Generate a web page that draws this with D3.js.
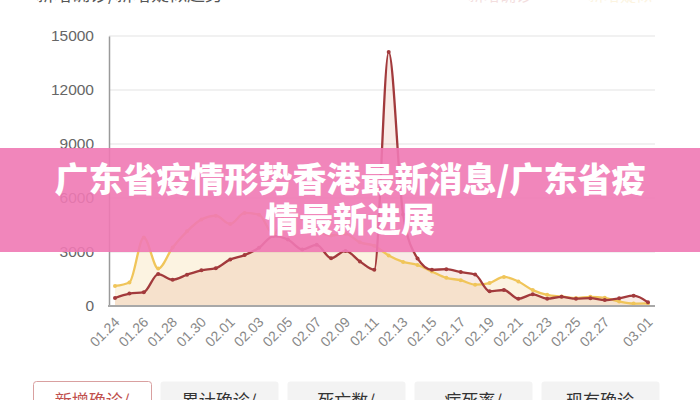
<!DOCTYPE html>
<html><head><meta charset="utf-8">
<script src="https://cdn.jsdelivr.net/npm/d3@7"></script>
<style>html,body{margin:0;padding:0;background:#fff;overflow:hidden}svg{display:block}</style>
</head><body>
<svg id="c" width="700" height="400"></svg>
<script>
const dates = ["01.24","01.25","01.26","01.27","01.28","01.29","01.30","01.31",
"02.01","02.02","02.03","02.04","02.05","02.06","02.07","02.08","02.09","02.10","02.11","02.12","02.13","02.14","02.15","02.16","02.17","02.18","02.19","02.20","02.21","02.22","02.23","02.24","02.25","02.26","02.27","02.28","02.29","03.01"];
const newConfirmed = [444,688,769,1771,1459,1737,1982,2102,2590,2829,3235,3887,3694,3143,3399,2656,3062,2478,2015,14108,5090,2641,2009,2048,1886,1749,820,889,397,648,409,508,406,433,327,427,573,202];
const newSuspected = [1118,1309,3806,2077,3248,4148,4812,5019,4562,5173,5072,3971,5328,4833,4214,3916,4008,3536,3342,2807,2450,2277,1918,1563,1432,1185,1277,1614,1361,882,620,530,439,508,452,248,132,141];
const xTickLabels = ["01.24","01.26","01.28","01.30","02.01","02.03","02.05","02.07","02.09","02.11","02.13","02.15","02.17","02.19","02.21","02.23","02.25","02.27","03.01"];
const yTicks = [0,3000,6000,9000,12000,15000];
const seriesNames = ["新增确诊","新增疑似"];
const tabs = ["新增确诊/","累计确诊/","死亡数/","病死率/","现有确诊"];
const bannerLines = ["广东省疫情形势香港最新消息/广东省疫","情最新进展"];
const titleText = "新增确诊/新增疑似趋势";

const svg = d3.select("#c");
const x = d3.scalePoint().domain(dates).range([115, 648]);
const y = d3.scaleLinear().domain([0, 15000]).range([306, 36]);
const font = "'Liberation Sans', Arial, sans-serif";
const cjk = "'Noto Sans CJK SC', sans-serif";

// title (cut off at top)
svg.append("text").attr("x", 36).attr("y", 1).attr("font-family", cjk).attr("font-size", 18)
  .attr("fill", "#555").text(titleText);
// legend (faint, cut off)
const lg = svg.append("g").attr("opacity", 0.18);
[["#c0504d", 440], ["#f0c55a", 560]].forEach((d, i) => {
  lg.append("text").attr("x", d[1] + 28).attr("y", 1).attr("font-family", cjk).attr("font-size", 16).attr("fill", d[0]).text(seriesNames[i]);
});

// grid
svg.append("g").selectAll("line").data(yTicks.filter(d => d > 0)).join("line")
  .attr("x1", 109).attr("x2", 655).attr("y1", d => y(d)).attr("y2", d => y(d))
  .attr("stroke", "#ececec").attr("stroke-width", 1.5);

// y axis
const yAxis = d3.axisLeft(y).tickValues(yTicks).tickFormat(d3.format("d")).tickSize(0).tickPadding(15);
const gy = svg.append("g").attr("transform", "translate(109,0)").call(yAxis);
gy.select(".domain").attr("stroke", "#9a9a9a").attr("stroke-width", 1.5);
gy.selectAll("text").attr("font-family", font).attr("font-size", 15.5).attr("fill", "#666");

// areas & lines
const curve = d3.curveMonotoneX;
const area = vals => d3.area().x((d, i) => x(dates[i])).y0(y(0)).y1(d => y(d)).curve(curve)(vals);
const line = vals => d3.line().x((d, i) => x(dates[i])).y(d => y(d)).curve(curve)(vals);
svg.append("path").attr("d", area(newSuspected)).attr("fill", "rgba(242,200,120,0.22)");
svg.append("path").attr("d", area(newConfirmed)).attr("fill", "rgba(215,130,100,0.16)");
const series = [[newSuspected, "#f0c55a"], [newConfirmed, "#a23a3c"]];
series.forEach(([vals, col]) => {
  svg.append("path").attr("d", line(vals)).attr("fill", "none").attr("stroke", col).attr("stroke-width", 2.3);
  svg.append("g").selectAll("circle").data(vals).join("circle")
    .attr("cx", (d, i) => x(dates[i])).attr("cy", d => y(d)).attr("r", 2).attr("fill", col);
});

// x axis
const xAxis = d3.axisBottom(x).tickValues(xTickLabels).tickSize(0).tickPadding(0);
const gx = svg.append("g").attr("transform", "translate(0,306)").call(xAxis);
gx.select(".domain").remove();
svg.append("line").attr("x1", 108).attr("x2", 655).attr("y1", 306).attr("y2", 306).attr("stroke", "#a8a8a8").attr("stroke-width", 2);
gx.selectAll("text").attr("font-family", font).attr("font-size", 14).attr("fill", "#888")
  .attr("text-anchor", "end").attr("dy", 0)
  .attr("transform", "translate(5,17) rotate(-45)");

// tabs
const tg = svg.append("g");
tabs.forEach((t, i) => {
  const x0 = 33 + i * 127;
  tg.append("rect").attr("x", x0 + 0.5).attr("y", 381.5).attr("width", 118).attr("height", 40).attr("rx", 3)
    .attr("fill", i === 0 ? "#fff" : "#f3f3f3").attr("stroke", i === 0 ? "#d9a0a0" : "none");
  tg.append("text").attr("x", x0 + 59).attr("y", 407).attr("text-anchor", "middle").attr("font-family", cjk)
    .attr("font-size", 17).attr("fill", i === 0 ? "#c0504d" : "#333").text(t);
});

// banner
svg.append("rect").attr("x", 0).attr("y", 148).attr("width", 700).attr("height", 104).attr("fill", "#ef79b4").attr("opacity", 0.9);
bannerLines.forEach((t, i) => {
  svg.append("text").attr("x", 350).attr("y", 192 + i * 40).attr("text-anchor", "middle")
    .attr("font-family", cjk).attr("font-weight", 900).attr("font-size", 34).attr("fill", "#fff").text(t);
});
</script>
</body></html>
